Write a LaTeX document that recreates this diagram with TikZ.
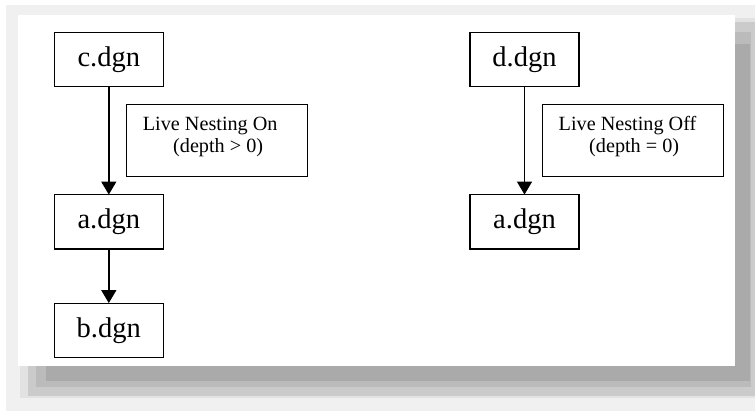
\documentclass[tikz,border=0pt]{standalone}
\usepackage{fontspec}
\setmainfont{Liberation Serif}
\usetikzlibrary{arrows.meta}
\definecolor{shA}{HTML}{F0F0F0}
\definecolor{shB}{HTML}{E2E2E2}
\definecolor{shC}{HTML}{CBCBCB}
\definecolor{shD}{HTML}{BBBBBB}
\definecolor{shE}{HTML}{AAAAAA}
\tikzset{
  filebox/.style={draw=black, line width=1.4pt, minimum width=109pt, minimum height=54.4pt, inner sep=0pt, font=\fontsize{28.5}{32}\selectfont},
  notebox/.style={draw=black, line width=1.3pt, minimum width=181pt, minimum height=72.4pt, inner sep=0pt},
  notetext/.style={anchor=base west, inner sep=0pt, font=\fontsize{20.2}{22}\selectfont},
  link/.style={line width=1.4pt, -{Triangle[length=13pt,width=15pt]}, shorten >=-0.5pt}
}
\begin{document}
\begin{tikzpicture}[x=1pt,y=-1pt]
\useasboundingbox (0,0) rectangle (755,411);
% frame with shadow
\fill[white] (0,0) rectangle (755,411);
\fill[shA] (6,5) rectangle (755,411);
\fill[shB] (20,18) rectangle (755,398);
\fill[shC] (28,22) rectangle (755,396);
\fill[shD] (36,32) rectangle (751,387);
\fill[shE] (46,44) rectangle (750,381);
\fill[white] (18,15) rectangle (735,366);
% left diagram
\node[filebox] (c) at (108.8,59.5) {c.dgn};
\node[filebox] (a1) at (108.8,222) {a.dgn};
\node[filebox] (b) at (108.8,330.5) {b.dgn};
\node[notebox] (n1) at (217.2,140.5) {};
\node[notetext] (n1a) at (142.7,131) {Live Nesting On};
\node[notetext] (n1b) at (173,153) {(depth > 0)};
\draw[link] (c) -- (a1);
\draw[link] (a1) -- (b);
% right diagram
\node[filebox] (d) at (524.5,59.5) {d.dgn};
\node[filebox] (a2) at (524.5,222) {a.dgn};
\node[notebox] (n2) at (633,140.5) {};
\node[notetext] (n2a) at (558.5,131) {Live Nesting Off};
\node[notetext] (n2b) at (589,153) {(depth = 0)};
\draw[link] (d) -- (a2);
\end{tikzpicture}
\end{document}
